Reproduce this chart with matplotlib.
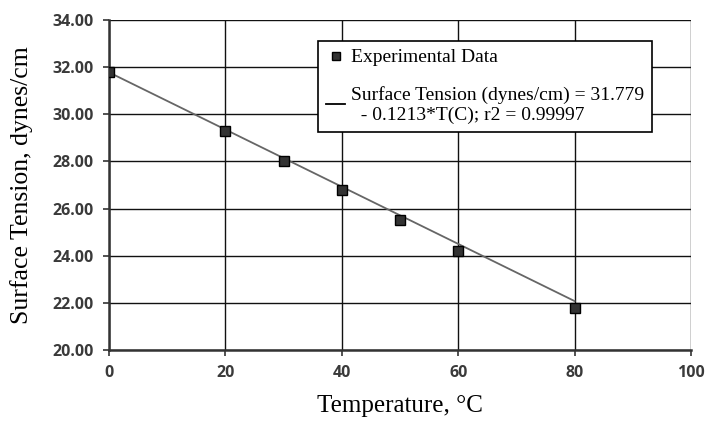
import matplotlib.pyplot as plt
import numpy as np

temp = [0, 20, 30, 40, 50, 60, 80]
tension = [31.78, 29.30, 28.03, 26.79, 25.50, 24.22, 21.80]
fit_a = 31.779
fit_b = -0.1213
fit_label = "Surface Tension (dynes/cm) = 31.779\n  - 0.1213*T(C); r2 = 0.99997"

fig = plt.figure(figsize=(7.06, 4.22), dpi=100)
ax = fig.add_axes([109/706, 1 - 350/422, (691-109)/706, (350-20)/422])

tfit = np.array([0, 80])
ax.plot(tfit, fit_a + fit_b*tfit, color="#666666", lw=1.3, zorder=3, label=fit_label)
ax.plot(temp, tension, ls="none", marker="s", ms=7.5, mfc="#333333", mec="black",
        mew=1, zorder=4, label="Experimental Data")

ax.set_xlim(0, 100)
ax.set_ylim(20, 34)
ax.set_xticks(range(0, 101, 20))
ax.set_yticks(np.arange(20, 34.1, 2))
ax.set_yticklabels([f"{v:.2f}" for v in np.arange(20, 34.1, 2)])
ax.grid(True, color="#111111", lw=1.0)
ax.set_axisbelow(True)
for s in ["top", "right"]:
    ax.spines[s].set_visible(False)
for s in ["left", "bottom"]:
    ax.spines[s].set_color("#333333")
    ax.spines[s].set_linewidth(1.8)
ax.tick_params(length=4, width=1.2, color="#333333", pad=7)
for lab in ax.get_xticklabels() + ax.get_yticklabels():
    lab.set_family("Open Sans")
    lab.set_fontweight("bold")
    lab.set_fontsize(11.5)
    lab.set_color("#3a3a3a")

ax.set_xlabel("Temperature, °C", family="Liberation Serif", fontsize=18, labelpad=10)
ax.set_ylabel("Surface Tension, dynes/cm", family="Liberation Serif", fontsize=18.5, labelpad=14)

h, l = ax.get_legend_handles_labels()
leg = ax.legend(h[::-1], l[::-1], loc="upper left", bbox_to_anchor=(209/582, 1 - 21/330),
                prop={"family": "Liberation Serif", "size": 14}, frameon=True,
                fancybox=False, edgecolor="black", framealpha=1, handlelength=1.0,
                handletextpad=0.3, labelspacing=1.0, borderpad=0.4, markerscale=0.8,
                borderaxespad=0)
leg.get_frame().set_linewidth(1.2)
leg.legend_handles[1].set_color("black")

fig.savefig("out.png")
